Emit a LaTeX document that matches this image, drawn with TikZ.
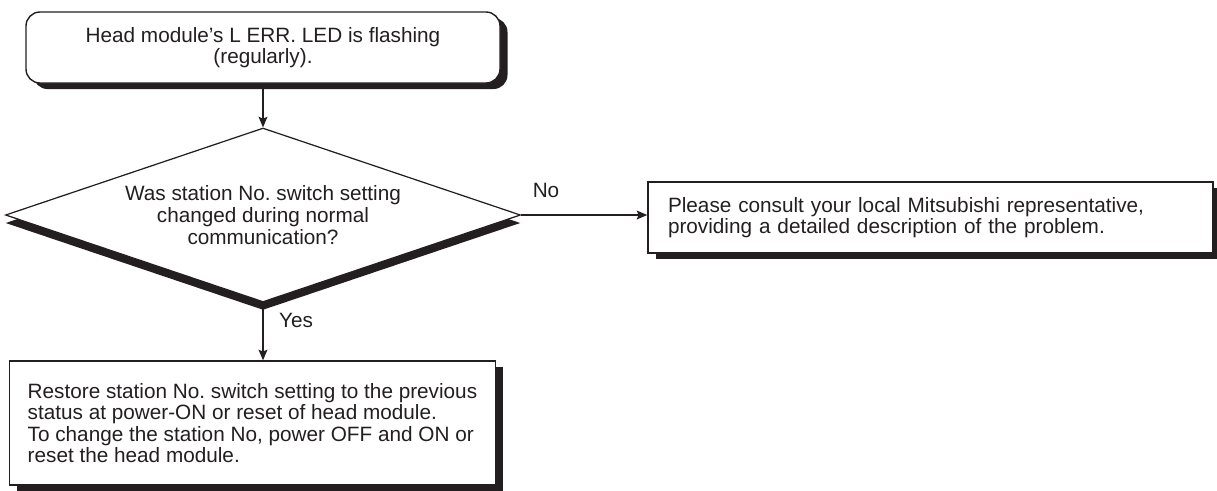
\documentclass[tikz,border=0pt]{standalone}
\usepackage{fontspec}
\setmainfont{Liberation Sans}
\usetikzlibrary{shapes.geometric,shadows,arrows.meta}
\definecolor{ink}{RGB}{35,31,32}
\begin{document}
\begin{tikzpicture}[>={Stealth[length=6pt,width=5pt,inset=1pt]},
  every node/.style={font=\fontsize{11.8}{12.3}\selectfont\frenchspacing,text=ink},
  boxshadow/.style={drop shadow={shadow xshift=0.15cm,shadow yshift=-0.12cm,opacity=1,fill=ink}},
  startbox/.style={draw=ink,line width=0.8pt,fill=white,rounded corners=0.28cm,
    minimum width=9.48cm,minimum height=1.42cm,align=center,boxshadow},
  decision/.style={diamond,aspect=3,draw=ink,line width=0.7pt,fill=white,inner sep=0pt,
    minimum width=10.3cm,minimum height=3.48cm,align=center,
    drop shadow={shadow xshift=0cm,shadow yshift=-0.16cm,opacity=1,fill=ink}},
  actbox/.style={draw=ink,line width=0.8pt,fill=white,align=left,boxshadow},
  flow/.style={->,draw=ink,line width=0.8pt}]
\useasboundingbox (0,0) rectangle (24.34,-9.8);

\node[startbox] (led) at (5.26,-0.95) {Head module's L ERR. LED is flashing\\(regularly).};
\node[decision] (chg) at (5.26,-4.3) {Was station No. switch setting\\changed during normal\\communication?};
\node[actbox,text width=10.5cm,inner xsep=0.4cm,minimum height=1.42cm] (mel) at (18.61,-4.35)
  {Please consult your local Mitsubishi representative,\\providing a detailed description of the problem.};
\node[actbox,anchor=west,inner xsep=0.36cm,minimum height=2.48cm] (rst) at (0.18,-8.46)
  {Restore station No. switch setting to the previous\\status at power-ON or reset of head module.\\To change the station No, power OFF and ON or\\reset the head module.};

\draw[flow] (led) -- (chg);
\draw[flow] (chg.east) -- (chg.east -| mel.west);
\draw[flow] (chg.south) -- (chg.south |- rst.north);

\node at (10.92,-3.8) {No};
\node at (5.92,-6.4) {Yes};
\end{tikzpicture}
\end{document}
